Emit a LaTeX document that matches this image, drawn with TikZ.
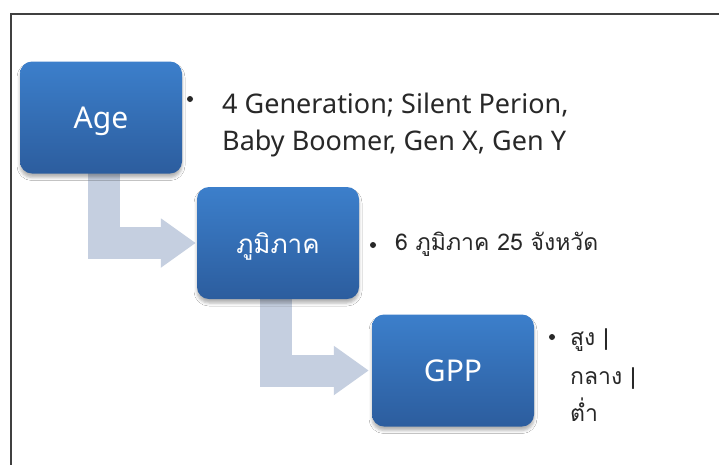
\documentclass[tikz,border=0pt]{standalone}
\usepackage{fontspec}
\setmainfont{Noto Sans}
\newfontfamily\thaifont[Script=Thai]{Loma}
\usetikzlibrary{arrows.meta,shadows.blur,backgrounds}

\definecolor{boxtop}{RGB}{60,127,203}
\definecolor{boxbot}{RGB}{44,93,158}
\definecolor{flow}{RGB}{197,207,224}
\definecolor{frame}{RGB}{64,64,64}
\definecolor{ink}{RGB}{40,40,40}

\tikzset{
  stepbox/.style={rectangle, rounded corners=12pt, minimum width=162pt,
    minimum height=112pt, inner sep=0pt, text height=21pt, text depth=0pt,
    top color=boxtop, bottom color=boxbot,
    text=white, blur shadow={shadow xshift=0pt, shadow yshift=-4pt,
    shadow blur radius=3pt, shadow opacity=30}},
  flowarrow/.style={draw=flow, line width=32pt, line join=miter,
    -{Triangle[width=47pt, length=35pt]}},
  dot/.style={circle, fill=ink, inner sep=0pt, minimum size=6pt},
  bodytext/.style={anchor=base west, inner sep=0pt, text=ink},
}

\begin{document}
\begin{tikzpicture}[x=1pt, y=-1pt]
\useasboundingbox (0,0) rectangle (719,464);

% process boxes
\node[stepbox, font=\fontsize{30}{36}\selectfont] (age) at (101,117.5) {Age};
\node[stepbox, font=\thaifont\fontsize{26}{32}\selectfont] (region) at (278,243) {ภูมิภาค};
\node[stepbox, font=\fontsize{30}{36}\selectfont] (gpp) at (453,370.5) {GPP};

% white page, frame and bent connectors, all behind the boxes
\begin{scope}[on background layer]
  \fill[white] (0,0) rectangle (719,464);
  \draw[frame, line width=2pt] (11,466) -- (11,14) -- (721,14);
  \draw[flowarrow] ([xshift=3pt, yshift=10pt]age.south) |- ([xshift=-1pt]region.west);
  \draw[flowarrow] ([xshift=-2pt, yshift=10pt]region.south) |- ([xshift=-3pt]gpp.west);
\end{scope}

% details for Age
\node[dot] (b1) at (190,99) {};
\node[bodytext, font=\fontsize{27}{37}\selectfont] (agel1) at (222,113) {4 Generation;\ Silent Perion,};
\node[bodytext, font=\fontsize{27}{37}\selectfont] (agel2) at (222,150) {Baby Boomer, Gen X, Gen Y};

% details for region
\node[dot] (b2) at (373,245) {};
\node[bodytext, font=\thaifont\fontsize{23}{28}\selectfont] (regl1) at (395,250) {6 ภูมิภาค 25 จังหวัด};

% details for GPP
\node[dot] (b3) at (552,337) {};
\node[bodytext, font=\thaifont\fontsize{23}{28}\selectfont] (gppl1) at (570,345) {สูง |};
\node[bodytext, font=\thaifont\fontsize{23}{28}\selectfont] (gppl2) at (570,384) {กลาง |};
\node[bodytext, font=\thaifont\fontsize{23}{28}\selectfont] (gppl3) at (570,421) {ต่ำ};
\end{tikzpicture}
\end{document}
